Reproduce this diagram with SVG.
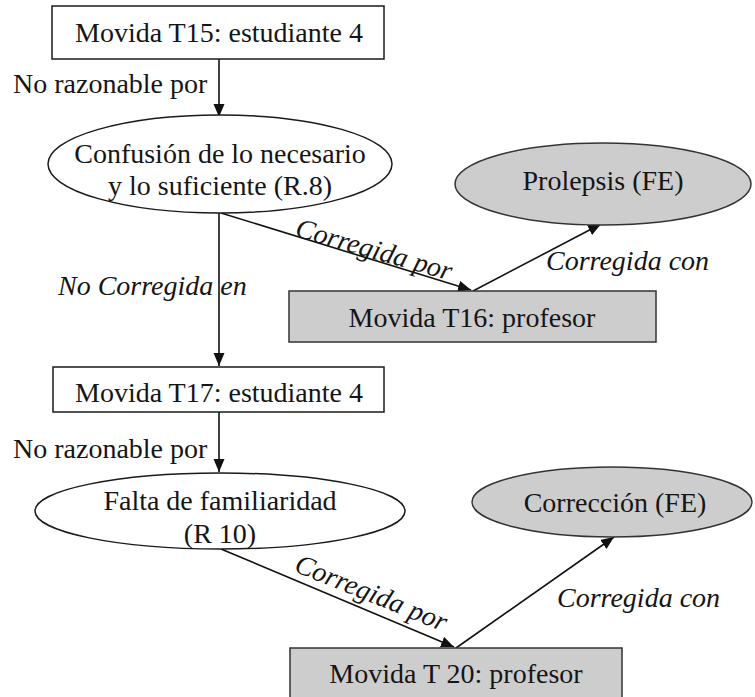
<svg xmlns="http://www.w3.org/2000/svg" width="755" height="697" viewBox="0 0 755 697">
  <style>
    .box { fill: #ffffff; stroke: #1a1a1a; stroke-width: 1.5; }
    .grey { fill: #cdcdcd; stroke: #333333; stroke-width: 1.5; }
    .lbl { font-family: "Liberation Serif", "Times New Roman", serif; font-size: 28px; fill: #151515; }
    .mid { text-anchor: middle; }
    .it { font-style: italic; }
    .edge { stroke: #111111; stroke-width: 1.6; fill: none; marker-end: url(#arrow); }
  </style>
  <defs>
    <marker id="arrow" markerUnits="userSpaceOnUse" markerWidth="14" markerHeight="12" refX="13" refY="5.5" orient="auto">
      <path d="M0,0 L13,5.5 L0,11 z" fill="#111111"/>
    </marker>
  </defs>
  <rect width="755" height="697" fill="#ffffff"/>

  <!-- connectors -->
  <g id="connectors">
    <line class="edge" x1="219" y1="59" x2="219" y2="117"/>
    <line class="edge" x1="219" y1="213" x2="219" y2="366"/>
    <line class="edge" x1="221" y1="213" x2="471" y2="290"/>
    <line class="edge" x1="473" y1="291" x2="601" y2="224"/>
    <line class="edge" x1="219" y1="412" x2="219" y2="472"/>
    <line class="edge" x1="221" y1="549" x2="454" y2="647"/>
    <line class="edge" x1="456" y1="648" x2="614" y2="537"/>
    <text class="lbl" x="13" y="93">No razonable por</text>
    <text class="lbl it" x="58" y="295">No Corregida en</text>
    <text class="lbl it" transform="translate(294,236) rotate(16)">Corregida por</text>
    <text class="lbl it" x="546" y="270">Corregida con</text>
    <text class="lbl" x="13" y="458">No razonable por</text>
    <text class="lbl it" transform="translate(293,571) rotate(22)">Corregida por</text>
    <text class="lbl it" x="557" y="607">Corregida con</text>
  </g>

  <g id="t15">
    <rect class="box" x="52" y="6" width="332" height="53"/>
    <text class="lbl mid" x="219" y="42">Movida T15: estudiante 4</text>
  </g>

  <g id="r8">
    <ellipse class="box" cx="220" cy="164" rx="172" ry="49"/>
    <text class="lbl mid" x="220" y="163">Confusión de lo necesario</text>
    <text class="lbl mid" x="220" y="195">y lo suficiente (R.8)</text>
  </g>

  <g id="prolepsis">
    <ellipse class="grey" cx="603" cy="184" rx="148" ry="41"/>
    <text class="lbl mid" x="603" y="190">Prolepsis (FE)</text>
  </g>

  <g id="t16">
    <rect class="grey" x="289" y="291" width="367" height="51"/>
    <text class="lbl mid" x="472" y="327">Movida T16: profesor</text>
  </g>

  <g id="t17">
    <rect class="box" x="53" y="367" width="331" height="45"/>
    <text class="lbl mid" x="219" y="402">Movida T17: estudiante 4</text>
  </g>

  <g id="r10">
    <ellipse class="box" cx="220" cy="511" rx="185" ry="38"/>
    <text class="lbl mid" x="220" y="510">Falta de familiaridad</text>
    <text class="lbl mid" x="220" y="543">(R 10)</text>
  </g>

  <g id="correccion">
    <ellipse class="grey" cx="612" cy="502" rx="140" ry="35"/>
    <text class="lbl mid" x="615" y="512">Corrección (FE)</text>
  </g>

  <g id="t20">
    <rect class="grey" x="290" y="648" width="332" height="55"/>
    <text class="lbl mid" x="456" y="683">Movida T 20: profesor</text>
  </g>
</svg>
